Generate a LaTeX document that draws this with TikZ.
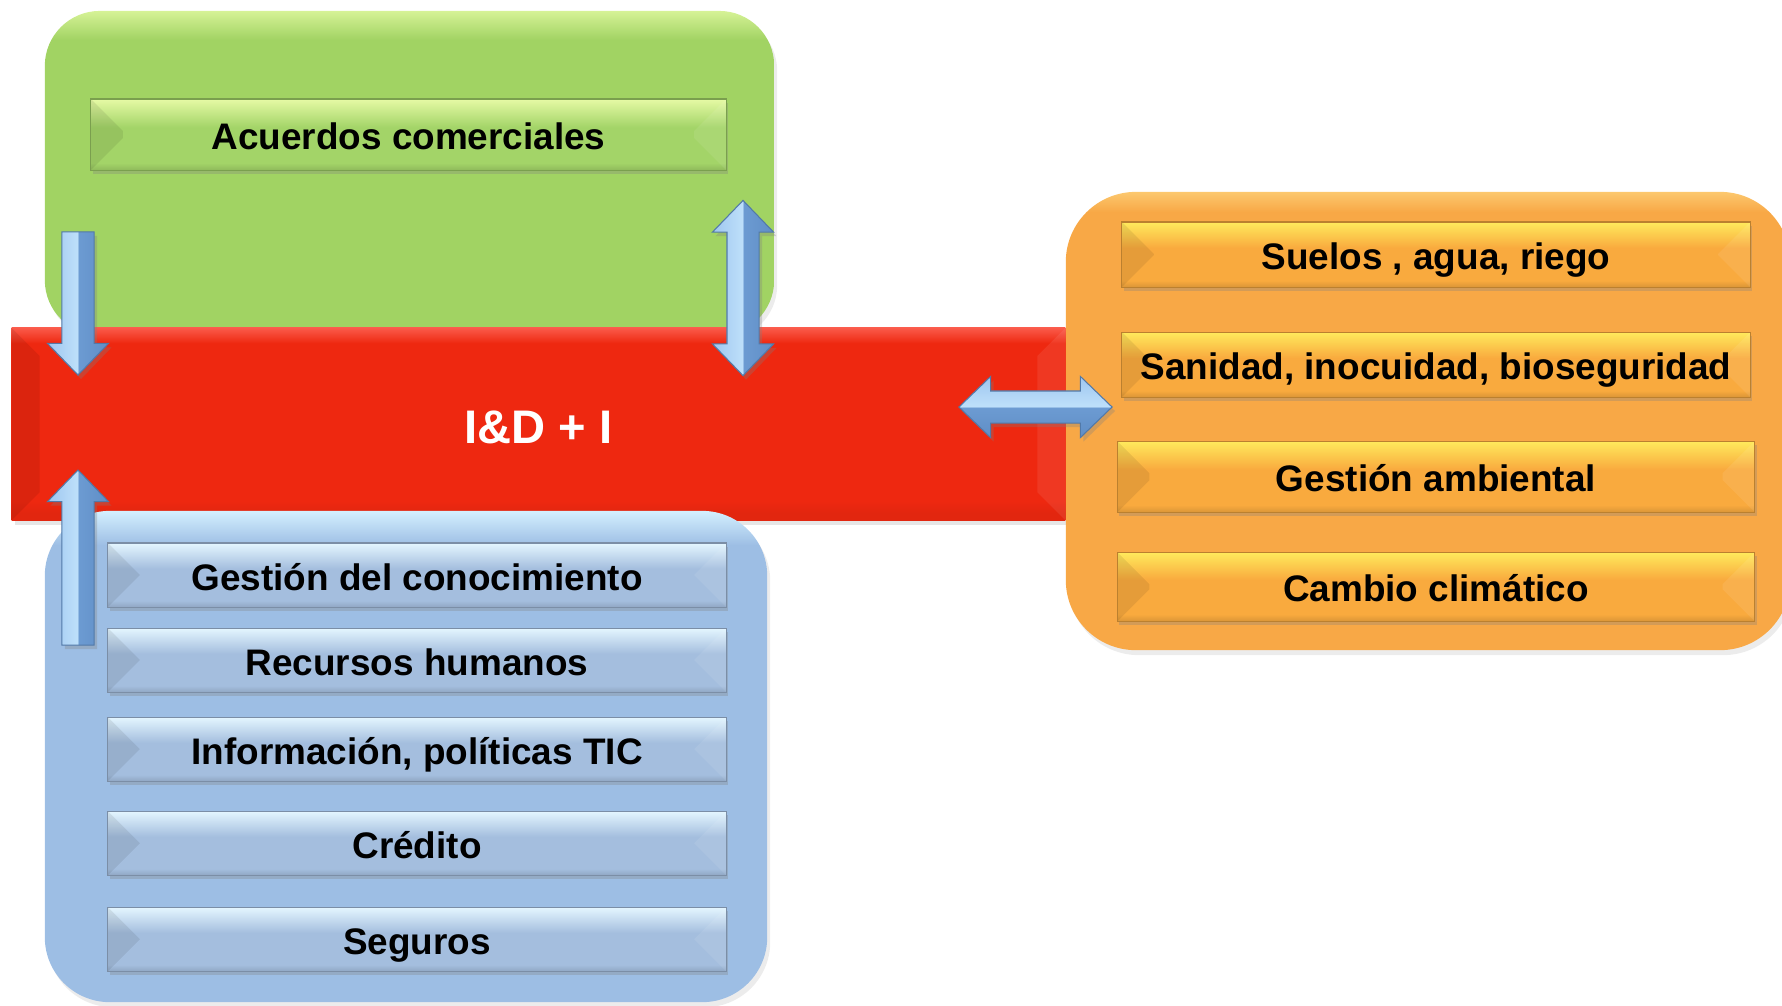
\documentclass[tikz,border=0pt]{standalone}
\usepackage{fontspec}
\setmainfont{Liberation Sans}
\usetikzlibrary{positioning,shapes.arrows,shadows}

\definecolor{greenBox}{RGB}{161,211,99}
\definecolor{greenTop}{RGB}{214,242,150}
\definecolor{greenBtn}{RGB}{163,212,104}
\definecolor{greenBtnTop}{RGB}{230,250,165}
\definecolor{redBand}{RGB}{238,40,16}
\definecolor{redTop}{RGB}{250,90,74}
\definecolor{orangeBox}{RGB}{248,168,70}
\definecolor{orangeTop}{RGB}{252,200,110}
\definecolor{orangeBtn}{RGB}{249,170,62}
\definecolor{orangeBtnTop}{RGB}{255,234,92}
\definecolor{blueBox}{RGB}{157,190,228}
\definecolor{blueTop}{RGB}{212,240,255}
\definecolor{blueBtn}{RGB}{164,190,222}
\definecolor{blueBtnTop}{RGB}{228,246,255}
\definecolor{arrPale}{RGB}{158,198,240}
\definecolor{arrLight}{RGB}{190,224,250}
\definecolor{arrMid}{RGB}{108,155,210}
\definecolor{arrDark}{RGB}{96,142,198}

\pgfdeclareverticalshading{greenglow}{100bp}{color(0bp)=(greenBox); color(70.5bp)=(greenBox); color(75bp)=(greenTop); color(100bp)=(greenTop)}
\pgfdeclareverticalshading{blueglow}{100bp}{color(0bp)=(blueBox); color(71.5bp)=(blueBox); color(75bp)=(blueTop); color(100bp)=(blueTop)}
\pgfdeclareverticalshading{orangeglow}{100bp}{color(0bp)=(orangeBox); color(72.8bp)=(orangeBox); color(75bp)=(orangeTop); color(100bp)=(orangeTop)}
\pgfdeclareverticalshading{redglow}{100bp}{color(0bp)=(redBand!95!black); color(27bp)=(redBand!95!black); color(30bp)=(redBand); color(71bp)=(redBand); color(75bp)=(redTop); color(100bp)=(redTop)}
\pgfdeclareverticalshading{ridge}{100bp}{color(0bp)=(arrDark); color(25bp)=(arrDark); color(49.8bp)=(arrMid); color(50.2bp)=(arrLight); color(75bp)=(arrPale); color(100bp)=(arrPale)}
% buttons: light band on top, slightly darker at the bottom
\newcommand\buttonshading[1]{%
  \pgfdeclareverticalshading{#1glow}{100bp}{color(0bp)=(#1!88!black); color(25bp)=(#1!88!black);
    color(30bp)=(#1); color(55bp)=(#1); color(75bp)=(#1Top); color(100bp)=(#1Top)}}
\buttonshading{greenBtn}
\buttonshading{orangeBtn}
\buttonshading{blueBtn}

\tikzset{
  panel/.style={shade, rounded corners=#1, inner sep=0pt, outer sep=0pt,
    drop shadow={opacity=0.15, shadow xshift=0.03cm, shadow yshift=-0.05cm}},
  bevel/.style={path picture={
      \fill[black,opacity=0.08] (path picture bounding box.north west) -- ++(#1,-#1)
        -- ([shift={(#1,#1)}]path picture bounding box.south west)
        -- (path picture bounding box.south west) -- cycle;
      \fill[white,opacity=0.08] (path picture bounding box.north east) -- ++(-#1,-#1)
        -- ([shift={(-#1,#1)}]path picture bounding box.south east)
        -- (path picture bounding box.south east) -- cycle;}},
  bevel/.default=0.32cm,
  btn/.style={draw=#1!75!black, line width=0.3pt, shade, shading=#1glow,
    inner sep=0pt, outer sep=0pt, bevel, text height=0.30cm, text depth=0cm,
    font=\bfseries\fontsize{10.5}{12}\selectfont,
    drop shadow={opacity=0.3, shadow xshift=0.02cm, shadow yshift=-0.04cm}},
  greenbtn/.style={btn=greenBtn},
  orangebtn/.style={btn=orangeBtn},
  bluebtn/.style={btn=blueBtn, minimum width=6.18cm, minimum height=0.64cm},
  arrowfill/.style={shade, shading=ridge, draw=arrDark!85!black, line width=0.3pt,
    inner xsep=0pt, inner ysep=0.155cm, outer sep=0pt, minimum width=0.6cm,
    drop shadow={opacity=0.3, shadow xshift=0.03cm, shadow yshift=-0.04cm}},
  oneway/.style={arrowfill, single arrow, single arrow head extend=0.145cm, single arrow tip angle=88},
  twoway/.style={arrowfill, double arrow, double arrow head extend=0.145cm, double arrow tip angle=88}
}

\begin{document}
\begin{tikzpicture}[x=0.01cm, y=-0.01cm]
  \useasboundingbox (0,0) rectangle (1782,1005);

  % mercados
  \node[panel=0.55cm, shading=greenglow, minimum width=7.29cm, minimum height=3.24cm] (comercio) at (409.5,173) {};
  \node[greenbtn, minimum width=6.35cm, minimum height=0.71cm] (acuerdos) at (408.5,134.5) {Acuerdos comerciales};

  \node[shade, shading=redglow, bevel=0.28cm, inner sep=0pt, minimum width=10.53cm, minimum height=1.92cm,
        text=white, text height=0.38cm, text depth=0cm, font=\bfseries\fontsize{13.4}{15}\selectfont,
        drop shadow={opacity=0.2, shadow xshift=0.03cm, shadow yshift=-0.05cm}] (idi) at (538.5,424) {I\&D + I};

  % recursos naturales
  \node[panel=0.7cm, shading=orangeglow, minimum width=7.24cm, minimum height=4.58cm] (ambiente) at (1428,421) {};
  \node[orangebtn, minimum width=6.28cm, minimum height=0.65cm] (suelos) at (1436,254.5) {Suelos , agua, riego};
  \node[orangebtn, minimum width=6.28cm, minimum height=0.65cm, below=0.45cm of suelos] (sanidad) {Sanidad, inocuidad, bioseguridad};
  \node[orangebtn, minimum width=6.37cm, minimum height=0.71cm, below=0.44cm of sanidad] (gestAmb) {Gestión ambiental};
  \node[orangebtn, minimum width=6.37cm, minimum height=0.69cm, below=0.40cm of gestAmb] (cambio) {Cambio climático};

  % apoyo
  \node[panel=0.65cm, shading=blueglow, minimum width=7.22cm, minimum height=4.91cm] (soporte) at (406,756.5) {};
  \node[bluebtn] (gestCon) at (417,575) {Gestión del conocimiento};
  \node[bluebtn, below=0.21cm of gestCon] (rrhh) {Recursos humanos};
  \node[bluebtn, below=0.25cm of rrhh] (info) {Información, políticas TIC};
  \node[bluebtn, below=0.30cm of info] (credito) {Crédito};
  \node[bluebtn, below=0.32cm of credito] (seguros) {Seguros};

  \node[oneway, rotate=-90, shading angle=90, minimum height=1.43cm, anchor=tip] (aDown) at (78,375) {};
  \node[oneway, rotate=90, shading angle=90, minimum height=1.75cm, anchor=tip] (aUp) at (78,470) {};
  \node[twoway, rotate=90, shading angle=90, minimum height=1.75cm] (aVert) at (743,288) {};
  \node[twoway, minimum height=1.53cm] (aSide) at (1035.5,407) {};
\end{tikzpicture}
\end{document}
